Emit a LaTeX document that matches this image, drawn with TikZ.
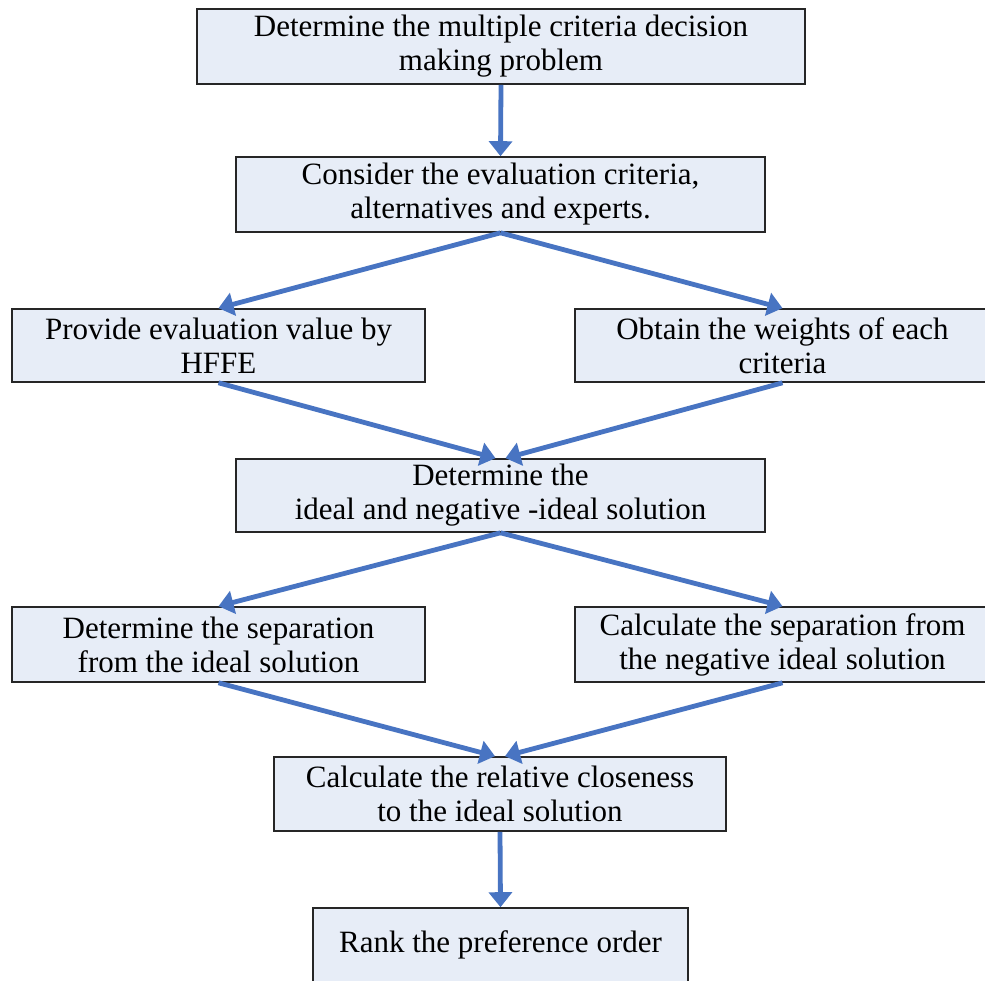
\documentclass[tikz,border=0pt]{standalone}
\usepackage{fontspec}
\setmainfont{Liberation Serif}
\usetikzlibrary{arrows.meta}
\definecolor{boxfill}{RGB}{231,237,247}
\definecolor{arrowblue}{RGB}{72,116,194}
\tikzset{
  box/.style={draw=black!85, line width=1.6pt, fill=boxfill, rectangle, inner sep=0pt,
    align=center, font=\fontsize{31}{34}\selectfont},
  flow/.style={draw=arrowblue, line width=4.8pt,
    -{Triangle[width=23pt,length=15pt]}}
}
\begin{document}
\begin{tikzpicture}[x=1pt,y=-1pt]
\useasboundingbox (0,0) rectangle (985,980);
\fill[white] (0,0) rectangle (985,980);
\node[box, minimum width=608pt, minimum height=75pt] (n1) at (501,46.5)
  {Determine the multiple criteria decision\\making problem};
\node[box, minimum width=529pt, minimum height=75pt] (n2) at (500.5,194.5)
  {Consider the evaluation criteria,\\alternatives and experts.};
\node[box, minimum width=413pt, minimum height=73pt] (n3) at (218.5,345.5)
  {Provide evaluation value by\\HFFE};
\node[box, minimum width=415pt, minimum height=73pt] (n4) at (782.5,345.5)
  {Obtain the weights of each\\criteria};
\node[box, minimum width=529pt, minimum height=73pt] (n5) at (500.5,495.5)
  {Determine the\\ideal and negative -ideal solution};
\node[box, minimum width=413pt, minimum height=75pt] (n6) at (218.5,644.5)
  {Determine the separation\\from the ideal solution};
\node[box, minimum width=415pt, minimum height=75pt] (n7) at (782.5,644.5)
  {Calculate the separation from\\the negative ideal solution};
\node[box, minimum width=452pt, minimum height=74pt] (n8) at (500,794)
  {Calculate the relative closeness\\to the ideal solution};
\node[box, minimum width=375pt, minimum height=74pt] (n9) at (500.5,945)
  {Rank the preference order};

\draw[flow] (n1.south) -- (n2.north);
\draw[flow] (n2.south) -- (n3.north);
\draw[flow] (n2.south) -- (n4.north);
\draw[flow] (n3.south) -- ([xshift=-5pt]n5.north);
\draw[flow] (n4.south) -- ([xshift=5pt]n5.north);
\draw[flow] (n5.south) -- (n6.north);
\draw[flow] (n5.south) -- (n7.north);
\draw[flow] (n6.south) -- ([xshift=-5pt]n8.north);
\draw[flow] (n7.south) -- ([xshift=5pt]n8.north);
\draw[flow] (n8.south) -- (n9.north);
\end{tikzpicture}
\end{document}
